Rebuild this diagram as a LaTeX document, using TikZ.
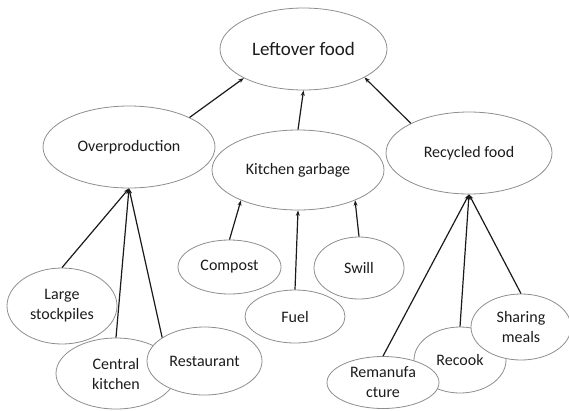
\documentclass[tikz,border=0pt]{standalone}
\usepackage{fontspec}
\setmainfont{Carlito}
\usetikzlibrary{shapes.geometric,arrows.meta}
\definecolor{rim}{HTML}{8E8E8E}
\definecolor{ink}{HTML}{1C1C1C}
\definecolor{wire}{HTML}{1A1A1A}
\begin{document}
\begin{tikzpicture}[x=1pt,y=-1pt,
  bubble/.style={ellipse,draw=rim,line width=0.8pt,fill=white,inner sep=0pt,
    text=ink,font=\fontsize{16}{20}\selectfont,align=center},
  link/.style={draw=wire,line width=1.2pt,-{Stealth[length=5.5pt,width=4pt]}}]
\useasboundingbox (0,0) rectangle (569,410);

% top level
\node[bubble,minimum width=167pt,minimum height=82pt,font=\fontsize{19}{23}\selectfont] (left) at (303.5,49) {Leftover food};

% second level
\node[bubble,minimum width=172pt,minimum height=82pt] (over) at (129,147) {Overproduction};
\node[bubble,minimum width=172pt,minimum height=80pt] (kit) at (298,170) {Kitchen garbage};
\node[bubble,minimum width=166pt,minimum height=82pt] (recy) at (469,153) {Recycled food};

% causes of overproduction
\node[bubble,minimum width=110pt,minimum height=76pt] (large) at (62,306) {Large\\stockpiles};
\node[bubble,minimum width=120pt,minimum height=71pt] (central) at (116,373.5) {Central\\kitchen};
\node[bubble,minimum width=115pt,minimum height=68pt] (rest) at (204.5,361) {Restaurant};

% uses of kitchen garbage
\node[bubble,minimum width=103pt,minimum height=54pt] (compost) at (229.5,267) {Compost};
\node[bubble,minimum width=100pt,minimum height=53pt] (fuel) at (295,316.5) {Fuel};
\node[bubble,minimum width=90pt,minimum height=62pt] (swill) at (359,268) {Swill};

% forms of recycled food
\node[bubble,minimum width=92pt,minimum height=66pt] (recook) at (460,360) {Recook};
\node[bubble,minimum width=112pt,minimum height=52pt] (rem) at (383,382.5) {Remanufa\\cture};
\node[bubble,minimum width=100pt,minimum height=66pt] (share) at (521,327) {Sharing\\meals};

% connectors
\draw[link] (over.26) -- (left.-154);
\draw[link] (kit.north) -- (left.south);
\draw[link] (recy.153) -- (left.-25);

\draw[link] (large.north) -- (over.south);
\draw[link] (central.north) -- (over.south);
\draw[link] (rest.151) -- (over.south);

\draw[link] (compost.north) -- (kit.-152);
\draw[link] (fuel.north) -- (kit.south);
\draw[link] (swill.north) -- (kit.-28);

\draw[link] (rem.north) -- (recy.south);
\draw[link] (recook.north) -- (recy.south);
\draw[link] (share.north) -- (recy.south);
\end{tikzpicture}
\end{document}
